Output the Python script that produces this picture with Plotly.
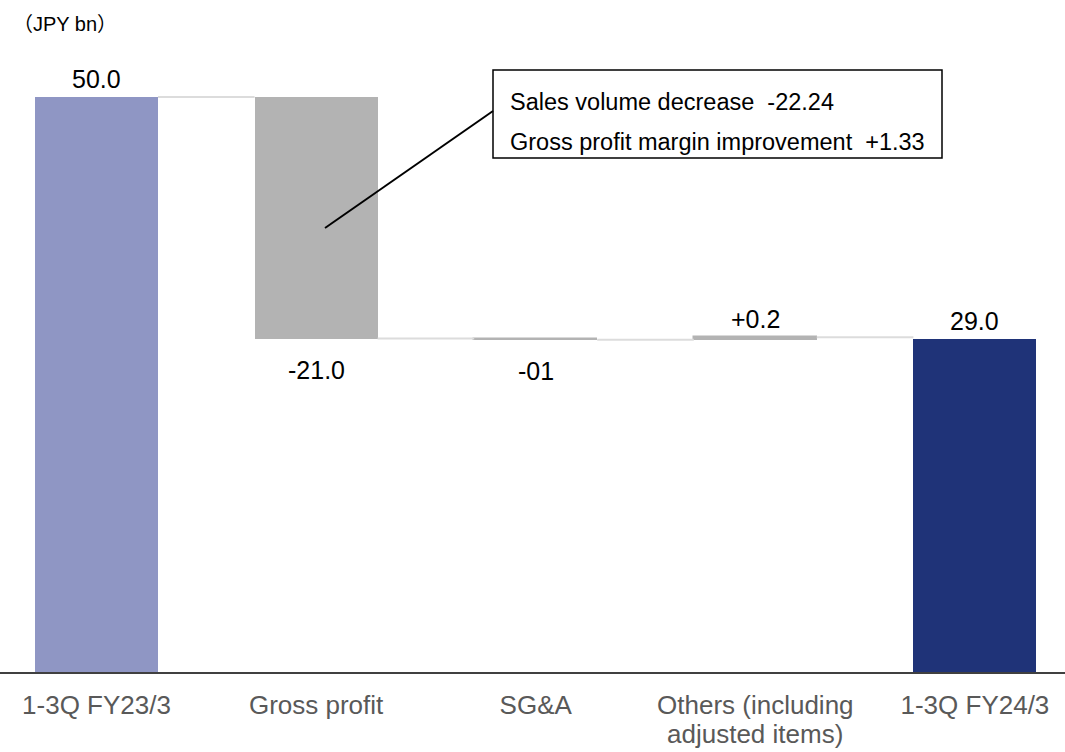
import plotly.graph_objects as go

# ---- data ----
categories = ["1-3Q FY23/3", "Gross profit", "SG&A",
              "Others (including<br>adjusted items)", "1-3Q FY24/3"]
values = [50.0, -21.0, -0.1, 0.2, 29.0]
measures = ["absolute", "relative", "relative", "relative", "absolute"]
value_labels = ["50.0", "-21.0", "-01", "+0.2", "29.0"]
bar_colors = ["#8f96c4", "#b3b3b3", "#b3b3b3", "#b3b3b3", "#1f3378"]
note_lines = ["Sales volume decrease \u00a0-22.24",
              "Gross profit margin improvement \u00a0+1.33"]
unit_label = "（JPY bn）"

# ---- derived waterfall geometry ----
W = 1065
H = 752
MT, MB = 40, 80
plot_h = H - MT - MB
px_per_unit = 11.5
bar_w = 0.56

bases, heights, tops, bottoms = [], [], [], []
running = 0.0
for v, m in zip(values, measures):
    if m == "absolute":
        b, h = 0.0, v
        running = v
    else:
        start = running
        running = running + v
        b = min(start, running)
        h = abs(v)
    bases.append(b)
    heights.append(h)
    tops.append(b + h)
    bottoms.append(b)

levels = []
running = 0.0
for v, m in zip(values, measures):
    running = v if m == "absolute" else running + v
    levels.append(running)

xs = list(range(len(categories)))
line_widths = [0 if h > 1 else 1.5 for h in heights]

fig = go.Figure()

# connectors
cx, cy = [], []
for i in range(len(xs) - 1):
    cx += [xs[i] + bar_w / 2, xs[i + 1] - bar_w / 2, None]
    cy += [levels[i], levels[i], None]
fig.add_trace(go.Scatter(x=cx, y=cy, mode="lines",
                         line=dict(color="#dcdcdc", width=2),
                         hoverinfo="skip", showlegend=False))

fig.add_trace(go.Bar(x=xs, y=heights, base=bases, width=bar_w,
                     marker=dict(color=bar_colors,
                                 line=dict(color=bar_colors, width=line_widths)),
                     showlegend=False))

annotations = []
for i, v in enumerate(values):
    if v >= 0:
        annotations.append(dict(x=xs[i], y=tops[i], text=value_labels[i],
                                showarrow=False, yanchor="bottom", yshift=2,
                                font=dict(size=25, color="#000000")))
    else:
        annotations.append(dict(x=xs[i], y=bottoms[i], text=value_labels[i],
                                showarrow=False, yanchor="top", yshift=-15,
                                font=dict(size=25, color="#000000")))

# tick labels: first line via the axis, following lines as annotations
tick_first = [c.split("<br>")[0] for c in categories]
for i, c in enumerate(categories):
    parts = c.split("<br>")
    for k, extra in enumerate(parts[1:], start=1):
        annotations.append(dict(x=xs[i], y=0, text=extra, showarrow=False,
                                yanchor="middle", yshift=-(33 + 29 * k),
                                font=dict(size=26, color="#595959")))


def py(p):
    return (H - MB - p) / plot_h


def pxp(p):
    return p / W


annotations.append(dict(xref="paper", yref="paper", x=pxp(11), y=py(24),
                        xanchor="left", yanchor="middle", text=unit_label,
                        showarrow=False, font=dict(size=20, color="#000000")))
annotations.append(dict(xref="paper", yref="paper", x=pxp(508), y=py(102),
                        xanchor="left", yanchor="middle", text=note_lines[0],
                        showarrow=False, font=dict(size=23.5, color="#000000")))
annotations.append(dict(xref="paper", yref="paper", x=pxp(508), y=py(142),
                        xanchor="left", yanchor="middle", text=note_lines[1],
                        showarrow=False, font=dict(size=23.5, color="#000000")))

shapes = [
    dict(type="rect", xref="paper", yref="paper",
         x0=pxp(493), x1=pxp(942), y0=py(158), y1=py(70),
         line=dict(color="#000000", width=1.5), fillcolor="rgba(0,0,0,0)"),
    dict(type="line", xref="paper", yref="paper",
         x0=pxp(325), y0=py(228), x1=pxp(493), y1=py(111),
         line=dict(color="#000000", width=2)),
]

fig.update_layout(
    width=W, height=H,
    margin=dict(l=0, r=0, t=MT, b=MB),
    plot_bgcolor="white", paper_bgcolor="white",
    font=dict(family="Liberation Sans, Arial, Noto Sans CJK JP", color="#000000"),
    annotations=annotations, shapes=shapes,
    xaxis=dict(range=[-96.5 / 219.6, (W - 96.5) / 219.6],
               tickmode="array", tickvals=xs, ticktext=tick_first,
               showline=True, linecolor="#404040", linewidth=2,
               showgrid=False, zeroline=False, ticks="",
               tickfont=dict(size=26, color="#595959"),
               ticklabelstandoff=9),
    yaxis=dict(range=[0, plot_h / px_per_unit], visible=False,
               showgrid=False, zeroline=False),
    bargap=0,
)

fig.write_html("out.html",
               config={"displayModeBar": False},
               post_script="document.body.style.margin='0';"
                           "document.body.style.overflow='hidden';")
